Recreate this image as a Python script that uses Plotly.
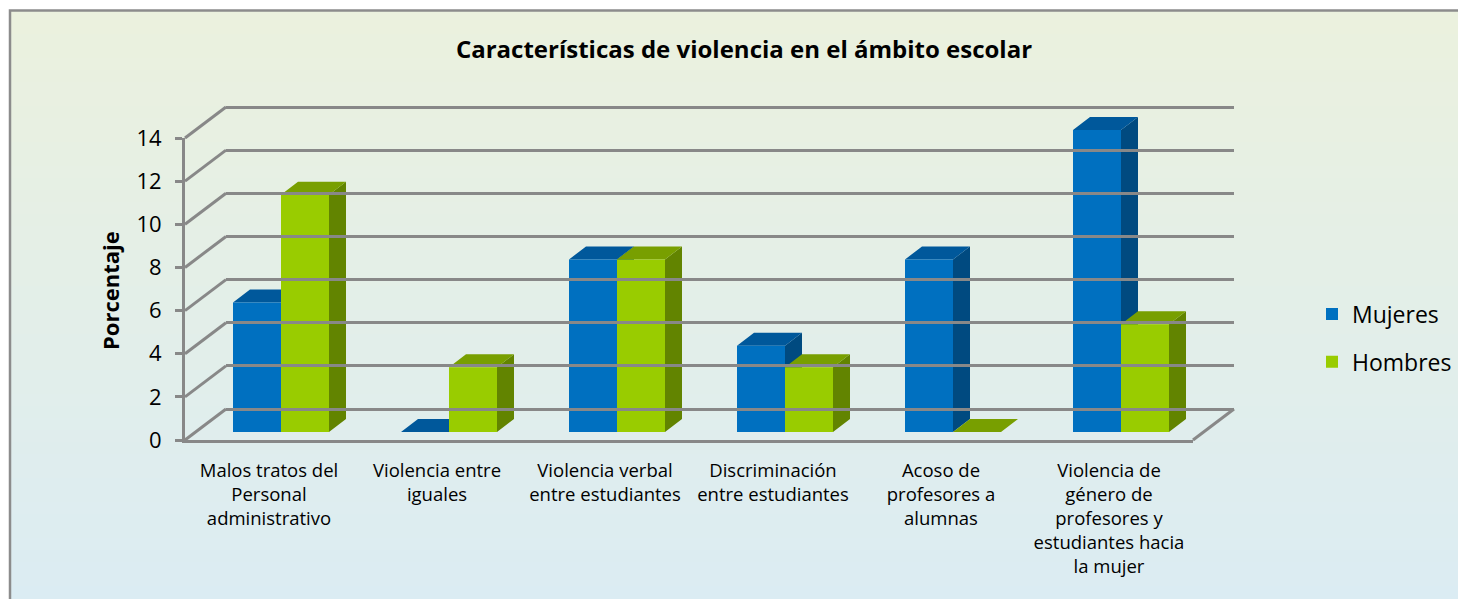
import plotly.graph_objects as go

# ---------------- data ----------------
categories = [
    "Malos tratos del<br>Personal<br>administrativo",
    "Violencia entre<br>iguales",
    "Violencia verbal<br>entre estudiantes",
    "Discriminación<br>entre estudiantes",
    "Acoso de<br>profesores a<br>alumnas",
    "Violencia de<br>género de<br>profesores y<br>estudiantes hacia<br>la mujer",
]
mujeres = [6, 0, 8, 4, 8, 14]
hombres = [11, 3, 8, 3, 0, 5]
y_ticks = [0, 2, 4, 6, 8, 10, 12, 14]

series = [
    ("Mujeres", mujeres, "#0070C0", "#00589B", "#004A80"),
    ("Hombres", hombres, "#99CC00", "#789F00", "#628400"),
]

# ---------------- geometry (pixels) ----------------
W, H = 1458, 599
FONT = "Open Sans"


def fx(px):
    return px / W


def fy(py):
    return (H - py) / H


PPU = 21.57                    # pixels per unit on the value axis
# bar plane
BX0, BX1, BY0 = 197, 1205, 432
BYMAX = 15.5
# front (axis) plane
FX0, FX1, FY0 = 185, 1193, 440
# back wall
KX0, KX1, KY0 = 226, 1234, 409
YMAX = 14
KPAD = 0.1

bar_w = 0.2857                 # bar width in category units
dx = 17 / ((BX1 - BX0) / 6)    # depth offset (category units)
dy = 13 / PPU                  # depth offset (value units)

fig = go.Figure()

# 3D faces (top and side) on the base subplot
for si, (name, vals, front, top, side) in enumerate(series):
    tx, ty, sx, sy = [], [], [], []
    for i, v in enumerate(vals):
        xl = i - bar_w + si * bar_w
        xr = xl + bar_w
        tx += [xl, xl + dx, xr + dx, xr, xl, None]
        ty += [v, v + dy, v + dy, v, v, None]
        sx += [xr, xr + dx, xr + dx, xr, xr, None]
        sy += [0, dy, v + dy, v, 0, None]
    fig.add_trace(go.Scatter(x=sx, y=sy, mode="lines", fill="toself", fillcolor=side,
                             line=dict(width=0), hoverinfo="skip", showlegend=False,
                             xaxis="x", yaxis="y"))
    fig.add_trace(go.Scatter(x=tx, y=ty, mode="lines", fill="toself", fillcolor=top,
                             line=dict(width=0), hoverinfo="skip", showlegend=False,
                             xaxis="x", yaxis="y"))

# bar fronts on the overlaying subplot
for si, (name, vals, front, top, side) in enumerate(series):
    fig.add_trace(go.Bar(x=list(range(len(vals))), y=vals, name=name, marker_color=front,
                         marker_line_width=0, xaxis="x4", yaxis="y4", legendgroup=name))

# invisible traces to activate the front and back axes
fig.add_trace(go.Scatter(x=[0], y=[0], mode="markers", marker=dict(opacity=0),
                         showlegend=False, hoverinfo="skip", xaxis="x2", yaxis="y2"))
fig.add_trace(go.Scatter(x=[0], y=[0], mode="markers", marker=dict(opacity=0),
                         showlegend=False, hoverinfo="skip", xaxis="x3", yaxis="y3"))

# ---------------- shapes: background, border, wall diagonals ----------------
shapes = []
top_c = (235, 241, 222)
bot_c = (219, 236, 243)
N = 50
y_start, y_end = 10, 610
for k in range(N):
    t = k / (N - 1)
    c = tuple(round(top_c[j] + (bot_c[j] - top_c[j]) * t) for j in range(3))
    ya = y_start + (y_end - y_start) * k / N
    yb = y_start + (y_end - y_start) * (k + 1) / N + 1
    shapes.append(dict(type="rect", xref="paper", yref="paper", layer="below",
                       x0=fx(10), x1=fx(1475), y0=fy(ya), y1=fy(yb),
                       fillcolor="rgb(%d,%d,%d)" % c, line=dict(width=0)))
shapes.append(dict(type="rect", xref="paper", yref="paper", layer="below",
                   x0=fx(10), x1=fx(1475), y0=fy(615), y1=fy(10.5),
                   fillcolor="rgba(0,0,0,0)", line=dict(color="#8C8C8C", width=2.5)))
for v in y_ticks:
    shapes.append(dict(type="line", xref="paper", yref="paper", layer="below",
                       x0=fx(FX0), y0=fy(FY0 - v * PPU), x1=fx(KX0), y1=fy(KY0 - v * PPU),
                       line=dict(color="#888888", width=3)))
shapes.append(dict(type="line", xref="paper", yref="paper", layer="below",
                   x0=fx(FX1), y0=fy(FY0), x1=fx(KX1), y1=fy(KY0),
                   line=dict(color="#888888", width=3)))

fig.update_layout(
    width=W, height=H,
    margin=dict(l=0, r=0, t=0, b=0, pad=0, autoexpand=False),
    paper_bgcolor="white",
    plot_bgcolor="rgba(0,0,0,0)",
    barmode="group",
    bargap=1 - 2 * bar_w,
    bargroupgap=0,
    shapes=shapes,
    title=dict(text="<b>Características de violencia en el ámbito escolar</b>",
               x=fx(744), xanchor="center", y=fy(50), yanchor="middle",
               xref="paper", yref="paper", automargin=False,
               font=dict(family=FONT, size=24, color="black")),
    font=dict(family=FONT, color="black"),
    legend=dict(x=fx(1312), y=fy(338), xanchor="left", yanchor="middle",
                bgcolor="rgba(0,0,0,0)", font=dict(size=23, family=FONT, color="black"),
                tracegroupgap=15, traceorder="grouped"),
    # base subplot for 3D faces
    xaxis=dict(domain=[fx(BX0), fx(BX1)], range=[-0.5, 5.5], visible=False,
               fixedrange=True, automargin=False),
    yaxis=dict(domain=[fy(BY0), fy(BY0 - BYMAX * PPU)], range=[0, BYMAX], visible=False,
               fixedrange=True, automargin=False),
    # overlay subplot for bar fronts
    xaxis4=dict(overlaying="x", range=[-0.5, 5.5], visible=False, anchor="y4",
                automargin=False),
    yaxis4=dict(overlaying="y", range=[0, BYMAX], visible=False, anchor="x4",
                automargin=False),
    # front axes
    xaxis2=dict(domain=[fx(FX0), fx(FX1)], range=[-0.5, 5.5], anchor="y2",
                tickmode="array", tickvals=list(range(len(categories))), ticktext=categories,
                showline=True, linecolor="#888888", linewidth=3, showgrid=False,
                zeroline=False, ticks="", ticklabelstandoff=12, automargin=False,
                tickfont=dict(family=FONT, size=18.5, color="black")),
    yaxis2=dict(domain=[fy(FY0), fy(FY0 - YMAX * PPU)], range=[0, YMAX], anchor="x2",
                tickmode="array", tickvals=y_ticks, showline=True, linecolor="#888888",
                linewidth=3, ticks="outside", ticklen=7, tickwidth=3, tickcolor="#888888",
                showgrid=False, zeroline=False, automargin=False, ticklabelstandoff=9,
                tickfont=dict(family=FONT, size=22, color="black")),
    # back wall
    xaxis3=dict(domain=[fx(KX0), fx(KX1)], range=[0, 1], anchor="y3", visible=False,
                automargin=False),
    yaxis3=dict(domain=[fy(KY0 + KPAD * PPU), fy(KY0 - (YMAX + KPAD) * PPU)],
                range=[-KPAD, YMAX + KPAD], anchor="x3",
                tickmode="array", tickvals=y_ticks, showgrid=True, gridcolor="#888888",
                gridwidth=3, showticklabels=False, showline=False, zeroline=False, ticks="",
                automargin=False),
    annotations=[dict(text="<b>Porcentaje</b>", textangle=-90, x=fx(110), y=fy(290),
                      xanchor="center", yanchor="middle",
                      xref="paper", yref="paper", showarrow=False,
                      font=dict(family=FONT, size=22, color="black"))],
)

fig.write_html("out.html", config={"displayModeBar": False},
               post_script="document.body.style.margin='0';document.body.style.overflow='hidden';")
